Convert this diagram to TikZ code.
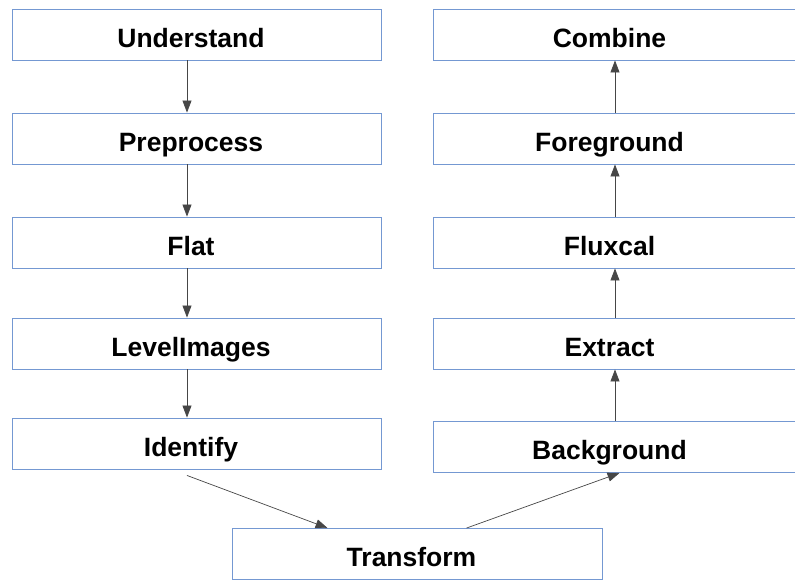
\documentclass[tikz,border=0pt]{standalone}
\usepackage{fontspec}
\setmainfont{Liberation Sans}
\usetikzlibrary{arrows.meta}

\definecolor{boxline}{RGB}{116,152,210}
\definecolor{arrowline}{RGB}{70,70,70}

\tikzset{
  stage/.style={draw=boxline, line width=0.9pt, rectangle, inner sep=0pt,
    minimum height=51pt, text height=25pt, text depth=0pt,
    execute at begin node={\hspace*{-11pt}},
    font=\fontsize{26.5}{30}\selectfont\bfseries},
  leftstage/.style={stage, minimum width=369pt},
  rightstage/.style={stage, minimum width=364pt},
  flow/.style={draw=arrowline, line width=0.7pt,
    -{Triangle[length=12pt,width=9pt]}}
}

\begin{document}
\begin{tikzpicture}[x=1pt,y=-1pt]
        \useasboundingbox (0,0) rectangle (795,581);
        \coordinate (lcol) at (187,0);
        \coordinate (rcol) at (615,0);
        % left column, top to bottom
        \node[leftstage] (under) at (196.5,34.5) {Understand};
        \node[leftstage] (prep)  at (196.5,138.5) {Preprocess};
        \node[leftstage] (flat)  at (196.5,242.5) {Flat};
        \node[leftstage] (level) at (196.5,343.5) {LevelImages};
        \node[leftstage] (ident) at (196.5,443.5) {Identify};
        % right column, bottom to top
        \node[rightstage] (comb)  at (615,34.5) {Combine};
        \node[rightstage] (fore)  at (615,138.5) {Foreground};
        \node[rightstage] (flux)  at (615,242.5) {Fluxcal};
        \node[rightstage] (extr)  at (615,343.5) {Extract};
        \node[rightstage] (back)  at (615,447) {Background};
        \node[minimum width=370pt, stage] (tran) at (417,554) {Transform};
        \draw[flow] (under.south -| lcol) -- (prep.north -| lcol);
        \draw[flow] (prep.south -| lcol) -- (flat.north -| lcol);
        \draw[flow] (flat.south -| lcol) -- (level.north -| lcol);
        \draw[flow] (level.south -| lcol) -- (ident.north -| lcol);
        \draw[flow] ([shift={(-9.5,6)}]ident.south) -- ([xshift=96pt]tran.north west);
        \draw[flow] ([xshift=235pt]tran.north west) -- ([xshift=187pt]back.south west);
        \draw[flow] (back.north -| rcol) -- (extr.south -| rcol);
        \draw[flow] (extr.north -| rcol) -- (flux.south -| rcol);
        \draw[flow] (flux.north -| rcol) -- (fore.south -| rcol);
        \draw[flow] (fore.north -| rcol) -- (comb.south -| rcol);
      \end{tikzpicture}
\end{document}
